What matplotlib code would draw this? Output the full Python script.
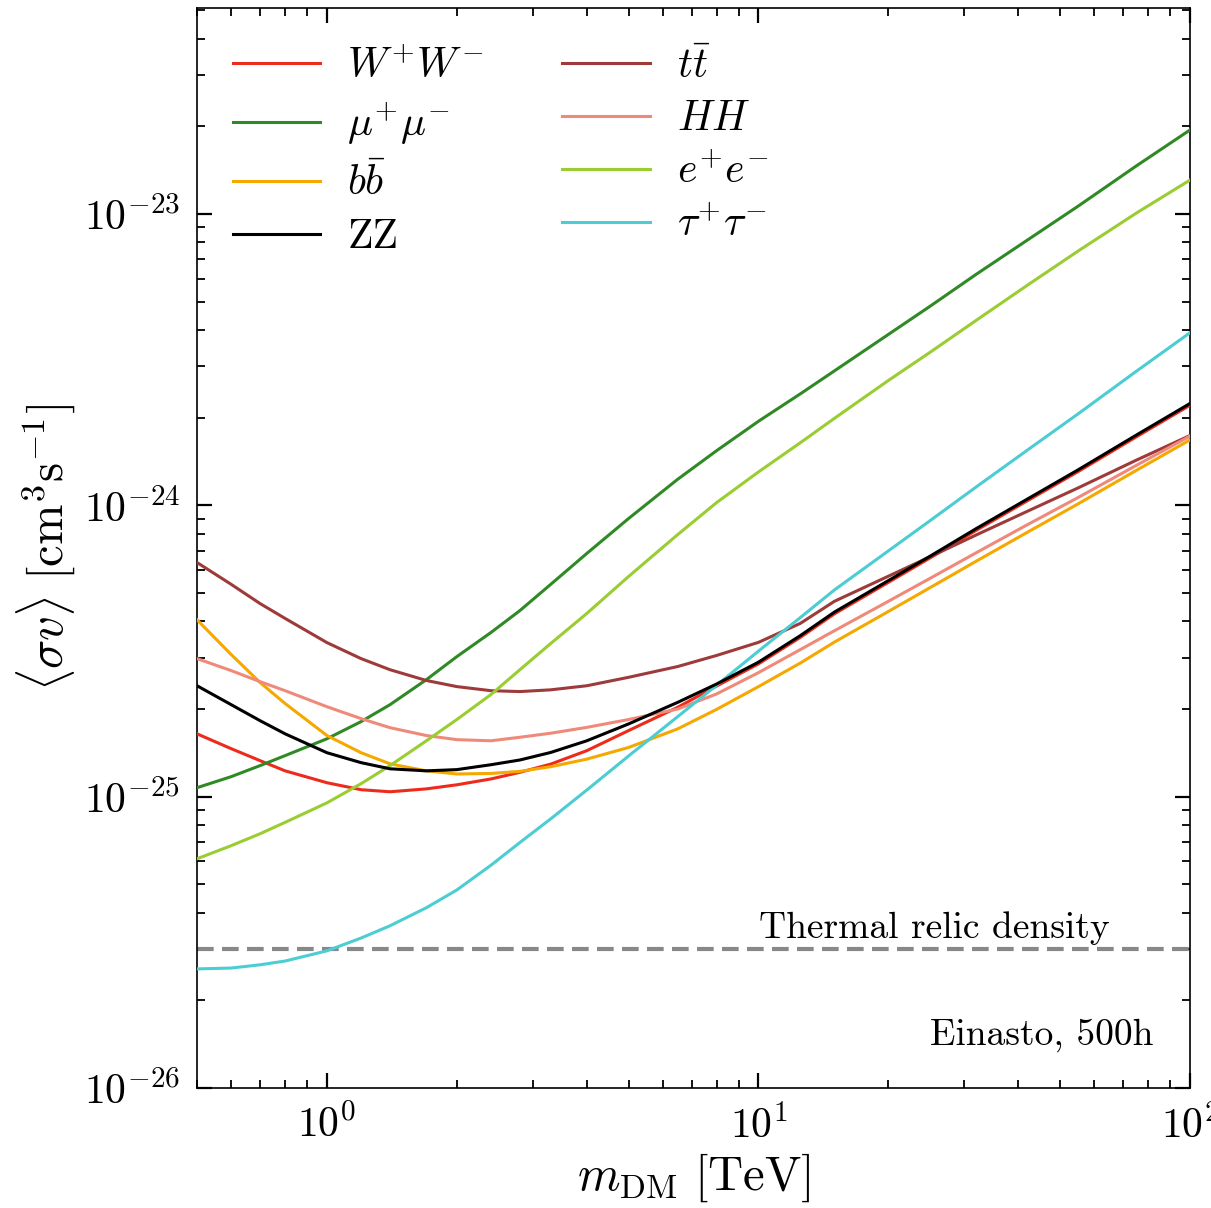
import numpy as np
import matplotlib
matplotlib.use('Agg')
import matplotlib.pyplot as plt

plt.rcParams['font.family'] = ['cmr10', 'DejaVu Serif']
plt.rcParams['mathtext.fontset'] = 'cm'
plt.rcParams['axes.formatter.use_mathtext'] = True
plt.rcParams['axes.unicode_minus'] = False

# dark matter mass [TeV]
m_dm = [0.5, 0.6, 0.7, 0.8, 1.0, 1.2, 1.4, 1.7, 2.0, 2.4, 2.8, 3.3, 4.0,
        5.0, 6.5, 8.0, 10.0, 12.5, 15.0, 20.0, 25.0, 32.0, 42.0, 55.0, 75.0, 100.0]

# upper limits on <sigma v> [cm^3 s^-1], one list per channel
sv_ww = [1.644e-25, 1.462e-25, 1.330e-25, 1.227e-25, 1.117e-25, 1.057e-25, 1.040e-25,
         1.064e-25, 1.099e-25, 1.151e-25, 1.213e-25, 1.294e-25, 1.439e-25, 1.687e-25,
         2.028e-25, 2.399e-25, 2.858e-25, 3.524e-25, 4.246e-25, 5.445e-25, 6.607e-25,
         8.222e-25, 1.038e-24, 1.306e-24, 1.718e-24, 2.208e-24]
sv_mumu = [1.074e-25, 1.172e-25, 1.279e-25, 1.384e-25, 1.581e-25, 1.811e-25, 2.070e-25,
           2.523e-25, 3.027e-25, 3.664e-25, 4.355e-25, 5.358e-25, 6.839e-25, 9.016e-25,
           1.230e-24, 1.542e-24, 1.945e-24, 2.415e-24, 2.897e-24, 3.864e-24, 4.831e-24,
           6.223e-24, 8.147e-24, 1.064e-23, 1.462e-23, 1.945e-23]
sv_bb = [4.05e-25, 3.076e-25, 2.466e-25, 2.089e-25, 1.622e-25, 1.416e-25, 1.297e-25,
         1.227e-25, 1.197e-25, 1.202e-25, 1.222e-25, 1.268e-25, 1.346e-25, 1.476e-25,
         1.710e-25, 1.995e-25, 2.388e-25, 2.877e-25, 3.396e-25, 4.325e-25, 5.224e-25,
         6.442e-25, 8.091e-25, 1.012e-24, 1.318e-24, 1.679e-24]
sv_zz = [2.404e-25, 2.070e-25, 1.824e-25, 1.644e-25, 1.416e-25, 1.309e-25, 1.247e-25,
         1.227e-25, 1.239e-25, 1.288e-25, 1.337e-25, 1.419e-25, 1.556e-25, 1.778e-25,
         2.109e-25, 2.438e-25, 2.897e-25, 3.573e-25, 4.305e-25, 5.521e-25, 6.699e-25,
         8.337e-25, 1.052e-24, 1.324e-24, 1.742e-24, 2.239e-24]
sv_tt = [6.368e-25, 5.358e-25, 4.603e-25, 4.093e-25, 3.381e-25, 2.979e-25, 2.729e-25,
         2.506e-25, 2.388e-25, 2.312e-25, 2.296e-25, 2.328e-25, 2.404e-25, 2.570e-25,
         2.799e-25, 3.055e-25, 3.388e-25, 3.936e-25, 4.688e-25, 5.715e-25, 6.668e-25,
         7.925e-25, 9.550e-25, 1.148e-24, 1.429e-24, 1.738e-24]
sv_hh = [2.979e-25, 2.710e-25, 2.483e-25, 2.312e-25, 2.037e-25, 1.854e-25, 1.726e-25,
         1.622e-25, 1.570e-25, 1.556e-25, 1.600e-25, 1.652e-25, 1.730e-25, 1.841e-25,
         2.000e-25, 2.254e-25, 2.667e-25, 3.199e-25, 3.715e-25, 4.688e-25, 5.623e-25,
         6.887e-25, 8.590e-25, 1.064e-24, 1.371e-24, 1.730e-24]
sv_ee = [6.124e-26, 6.792e-26, 7.464e-26, 8.166e-26, 9.528e-26, 1.109e-25, 1.279e-25,
         1.556e-25, 1.841e-25, 2.244e-25, 2.729e-25, 3.357e-25, 4.256e-25, 5.702e-25,
         7.943e-25, 1.023e-24, 1.303e-24, 1.641e-24, 1.991e-24, 2.685e-24, 3.357e-24,
         4.325e-24, 5.702e-24, 7.464e-24, 1.007e-23, 1.309e-23]
sv_tau = [2.564e-26, 2.582e-26, 2.649e-26, 2.729e-26, 2.958e-26, 3.273e-26, 3.606e-26,
          4.159e-26, 4.786e-26, 5.821e-26, 6.966e-26, 8.395e-26, 1.054e-25, 1.380e-25,
          1.884e-25, 2.415e-25, 3.162e-25, 4.121e-25, 5.129e-25, 6.982e-25, 8.872e-25,
          1.159e-24, 1.549e-24, 2.061e-24, 2.884e-24, 3.917e-24]

thermal_relic = 3e-26

channels = [
    (sv_ww,   r'$W^{+}W^{-}$',       '#ee2a1b'),
    (sv_mumu, r'$\mu^{+}\mu^{-}$',   '#2f8a25'),
    (sv_bb,   r'$b\bar{b}$',         '#f5a800'),
    (sv_zz,   'ZZ',                  'black'),
    (sv_tt,   r'$t\bar{t}$',         '#9e3a3a'),
    (sv_hh,   r'$HH$',               '#ef8a7a'),
    (sv_ee,   r'$e^{+}e^{-}$',       '#9acd32'),
    (sv_tau,  r'$\tau^{+}\tau^{-}$', '#4ccdd3'),
]

fig = plt.figure(figsize=(12.11, 12.08), dpi=100)
ax = fig.add_axes([0.1627, 0.0993, 0.82, 0.8941])

for sv, lab, col in channels:
    # ZZ on top: it hides W+W- where the two coincide
    ax.plot(m_dm, sv, color=col, lw=2.2, label=lab, zorder=4 if lab == 'ZZ' else 3,
            solid_joinstyle='round')

ax.axhline(thermal_relic, color='#888888', ls=(0, (4, 2)), lw=3, zorder=2)
ax.text(10.05, 3.28e-26, 'Thermal relic density', fontsize=27, va='baseline', ha='left')
ax.text(0.963, 0.04, 'Einasto, 500h', fontsize=27, va='baseline', ha='right',
        transform=ax.transAxes)

ax.set_xscale('log')
ax.set_yscale('log')
ax.set_xlim(0.5, 100)
ax.set_ylim(1e-26, 5.1e-23)

ax.tick_params(which='both', direction='in', top=True, right=True, labelsize=30, pad=12)
ax.tick_params(which='major', length=11, width=1.6)
ax.tick_params(which='minor', length=5.5, width=1.3)
for sp in ax.spines.values():
    sp.set_linewidth(1.2)

ax.set_xlabel(r'$m_{\mathrm{DM}}\ [\mathrm{TeV}]$', fontsize=35, labelpad=4)
ax.set_ylabel(r'$\langle \sigma v \rangle\ [\mathrm{cm}^3\mathrm{s}^{-1}]$', fontsize=35, labelpad=4)

ax.legend(loc='upper left', bbox_to_anchor=(0.036, 0.964), ncol=2, frameon=False,
          fontsize=30, handlelength=2.1, handletextpad=0.65, columnspacing=1.88,
          labelspacing=0.37, borderaxespad=0, borderpad=0)

fig.savefig('out.png', dpi=100)
